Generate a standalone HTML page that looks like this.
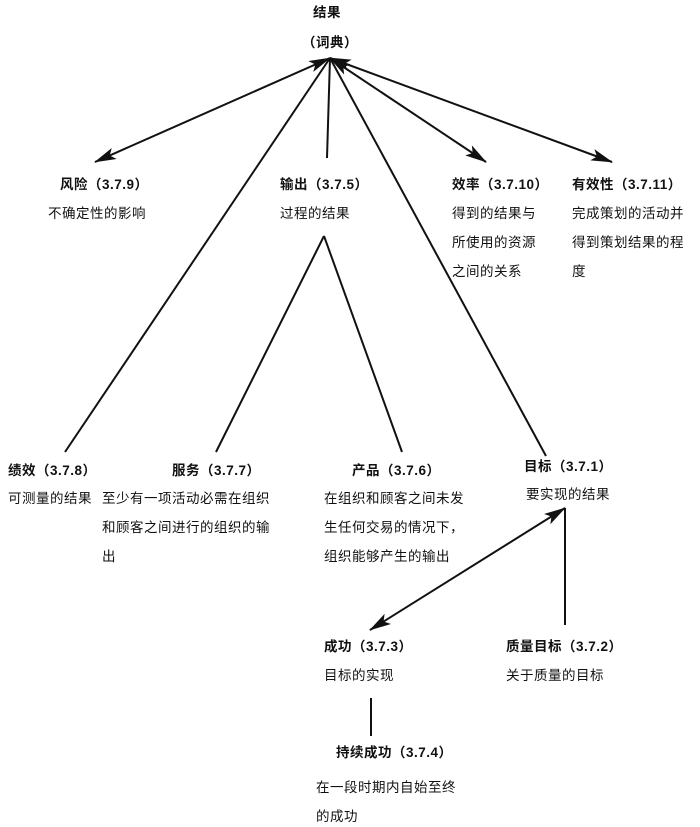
<!DOCTYPE html>
<html><head><meta charset="utf-8"><style>
html,body{margin:0;padding:0;background:#fff;}
svg{display:block;}
text{font-family:"Liberation Sans","Noto Sans CJK SC",sans-serif;font-size:13.5px;letter-spacing:0.5px;fill:#111;}
.b{font-weight:bold;}
</style></head><body>
<svg width="700" height="827" viewBox="0 0 700 827" xmlns="http://www.w3.org/2000/svg">
<defs>
<marker id="a" viewBox="0 0 22 12" refX="21" refY="6" markerWidth="22" markerHeight="12" orient="auto-start-reverse" markerUnits="userSpaceOnUse">
<path d="M0,0 L22,6 L0,12 L5,6 z" fill="#111"/></marker>
</defs>
<g stroke="#111" stroke-width="2" fill="none">
<path d="M330,58 L95,162" marker-start="url(#a)" marker-end="url(#a)"/>
<path d="M330,58 L486,162" marker-start="url(#a)" marker-end="url(#a)"/>
<path d="M330,58 L612,162" marker-start="url(#a)" marker-end="url(#a)"/>
<path d="M330,58 L65,452"/>
<path d="M330,58 L327,158"/>
<path d="M330,58 L546,456"/>
<path d="M324,236 L216,452"/>
<path d="M324,236 L402,452"/>
<path d="M565,508 L370,630" marker-start="url(#a)" marker-end="url(#a)"/>
<path d="M565,508 L565,625"/>
<path d="M371,698 L371,736"/>
</g>
<text class="b" x="313" y="17">结果</text>
<text class="b" x="302" y="47">（词典）</text>

<text class="b" x="60" y="189">风险（3.7.9）</text>
<text x="48" y="218">不确定性的影响</text>

<text class="b" x="280" y="189">输出（3.7.5）</text>
<text x="280" y="218">过程的结果</text>

<text class="b" x="452" y="189">效率（3.7.10）</text>
<text x="452" y="218">得到的结果与</text>
<text x="452" y="247">所使用的资源</text>
<text x="452" y="276">之间的关系</text>

<text class="b" x="572" y="189">有效性（3.7.11）</text>
<text x="572" y="218">完成策划的活动并</text>
<text x="572" y="247">得到策划结果的程</text>
<text x="572" y="276">度</text>

<text class="b" x="8" y="475">绩效（3.7.8）</text>
<text x="8" y="503">可测量的结果</text>

<text class="b" x="172" y="475">服务（3.7.7）</text>
<text x="102" y="503">至少有一项活动必需在组织</text>
<text x="102" y="532">和顾客之间进行的组织的输</text>
<text x="102" y="561">出</text>

<text class="b" x="352" y="475">产品（3.7.6）</text>
<text x="324" y="503">在组织和顾客之间未发</text>
<text x="324" y="532">生任何交易的情况下，</text>
<text x="324" y="561">组织能够产生的输出</text>

<text class="b" x="524" y="471">目标（3.7.1）</text>
<text x="526" y="499">要实现的结果</text>

<text class="b" x="324" y="651">成功（3.7.3）</text>
<text x="324" y="680">目标的实现</text>

<text class="b" x="506" y="651">质量目标（3.7.2）</text>
<text x="506" y="680">关于质量的目标</text>

<text class="b" x="336" y="757">持续成功（3.7.4）</text>
<text x="316" y="792">在一段时期内自始至终</text>
<text x="316" y="821">的成功</text>
</svg>
</body></html>
